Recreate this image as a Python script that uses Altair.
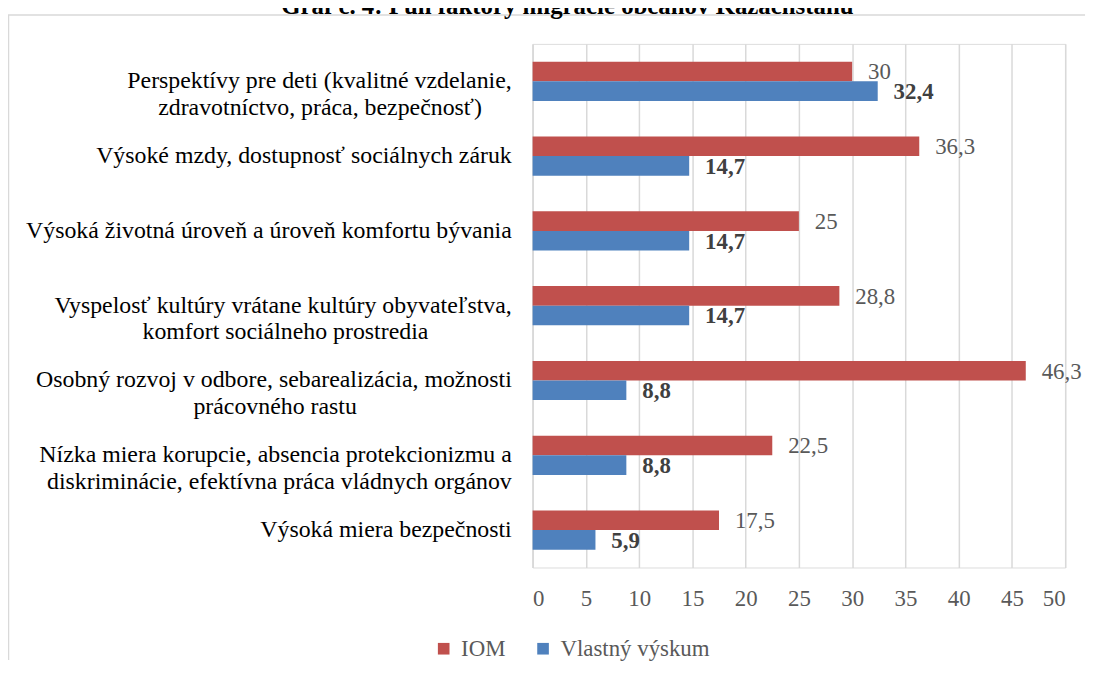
import altair as alt
import pandas as pd

# ---------------- data ----------------
category_lines = [
    ["Perspektívy pre deti (kvalitné vzdelanie,", "zdravotníctvo, práca, bezpečnosť)"],
    ["Výsoké mzdy, dostupnosť sociálnych záruk"],
    ["Výsoká životná úroveň a úroveň komfortu bývania"],
    ["Vyspelosť kultúry vrátane kultúry obyvateľstva,", "komfort sociálneho prostredia"],
    ["Osobný rozvoj v odbore, sebarealizácia, možnosti", "prácovného rastu"],
    ["Nízka miera korupcie, absencia protekcionizmu a", "diskriminácie, efektívna práca vládnych orgánov"],
    ["Výsoká miera bezpečnosti"],
]
series_names = ["IOM", "Vlastný výskum"]
iom_values = [30, 36.3, 25, 28.8, 46.3, 22.5, 17.5]
own_values = [32.4, 14.7, 14.7, 14.7, 8.8, 8.8, 5.9]
x_ticks = [0, 5, 10, 15, 20, 25, 30, 35, 40, 45, 50]
title_text = "Graf č. 4: Pull faktory migrácie občanov Kazachstanu"

# ---------------- layout (second-line centring via non-breaking spaces) ----------------
second_line_pad = [5, 0, 0, 14, 26, 0, 0]
NBSP = "\u00a0"
ZWSP = "\u200b"  # keeps the trailing non-breaking spaces from being trimmed

FONT = "Liberation Serif"
RED = "#C0504D"
BLUE = "#4F81BD"
GRID = "#D9D9D9"
GREY_TXT = "#595959"

cat_keys = []
for lines, pad in zip(category_lines, second_line_pad):
    if len(lines) > 1:
        tail = NBSP * pad + ZWSP if pad else ""
        cat_keys.append(lines[0] + "|" + lines[1] + tail)
    else:
        cat_keys.append(lines[0])


def fmt(v):
    return f"{v:g}".replace(".", ",")


rows = []
for k, a, b in zip(cat_keys, iom_values, own_values):
    rows.append({"cat": k, "series": series_names[0], "value": a, "label": fmt(a)})
    rows.append({"cat": k, "series": series_names[1], "value": b, "label": fmt(b)})
df = pd.DataFrame(rows)
cat_df = pd.DataFrame({"cat": cat_keys})

y_enc = alt.Y(
    "cat:N",
    sort=cat_keys,
    title=None,
    scale=alt.Scale(paddingInner=0.476, paddingOuter=0.238),
    axis=alt.Axis(
        labels=False,
        ticks=False,
        domain=True,
        domainColor=GRID,
        domainWidth=1.5,
        grid=False,
    ),
)
x_enc = alt.X(
    "value:Q",
    title=None,
    scale=alt.Scale(domain=[0, 50], nice=False),
    axis=alt.Axis(
        values=x_ticks,
        labelFont=FONT,
        labelFontSize=23,
        labelColor=GREY_TXT,
        labelPadding=20,
        ticks=False,
        domain=False,
        grid=True,
        gridColor=GRID,
        gridWidth=1.5,
    ),
)
yoff = alt.YOffset("series:N", sort=series_names, scale=alt.Scale(paddingInner=0, paddingOuter=0))

base = alt.Chart(df)

bars = base.mark_bar(stroke=None).encode(
    y=y_enc,
    x=x_enc,
    yOffset=yoff,
    color=alt.Color(
        "series:N",
        sort=series_names,
        scale=alt.Scale(domain=series_names, range=[RED, BLUE]),
        legend=alt.Legend(
            title=None,
            orient="none",
            legendX=-101,
            legendY=597,
            direction="horizontal",
            symbolType="square",
            symbolSize=137,
            symbolStrokeWidth=0,
            labelFont=FONT,
            labelFontSize=23,
            labelColor=GREY_TXT,
            labelOffset=6,
            columnPadding=26,
            padding=0,
        ),
    ),
)

cat_labels = alt.Chart(cat_df).mark_text(
    align="right", baseline="middle", font=FONT, fontSize=24, color="#000000",
    lineBreak="|", lineHeight=27, dx=-21,
).encode(y=alt.Y("cat:N", sort=cat_keys), x=alt.value(0), text="cat:N")

labels_iom = base.transform_filter(alt.datum.series == series_names[0]).mark_text(
    align="left", baseline="middle", dx=16, dy=1, font=FONT, fontSize=23, color=GREY_TXT
).encode(y=alt.Y("cat:N", sort=cat_keys), x="value:Q", yOffset=yoff, text="label:N")

labels_own = base.transform_filter(alt.datum.series == series_names[1]).mark_text(
    align="left", baseline="middle", dx=16, dy=1, font=FONT, fontSize=23, fontWeight="bold", color="#404040"
).encode(y=alt.Y("cat:N", sort=cat_keys), x="value:Q", yOffset=yoff, text="label:N")

one = alt.Data(values=[{"t": title_text}])

border_top = alt.Chart(one).mark_rule(color=GRID, strokeWidth=1.5).encode(
    x=alt.value(-528), x2=alt.value(556), y=alt.value(-29)
)
border_left = alt.Chart(one).mark_rule(color=GRID, strokeWidth=1.5).encode(
    x=alt.value(-527.5), y=alt.value(-29), y2=alt.value(620)
)
title = alt.Chart(one).mark_text(
    font=FONT, fontSize=25, fontWeight="bold", color="#000000", align="center", baseline="alphabetic"
).encode(x=alt.value(35), y=alt.value(-30), text="t:N")

chart = (
    alt.layer(border_top, border_left, bars, cat_labels, labels_iom, labels_own, title)
    .properties(
        width=536,
        height=527,
        padding={"left": 528, "top": 34, "right": 28, "bottom": 93},
        autosize=alt.AutoSizeParams(type="none"),
    )
    .configure_view(stroke=None)
    .configure(font=FONT)
)

chart.save("out.html", embed_options={"renderer": "svg", "actions": False})
